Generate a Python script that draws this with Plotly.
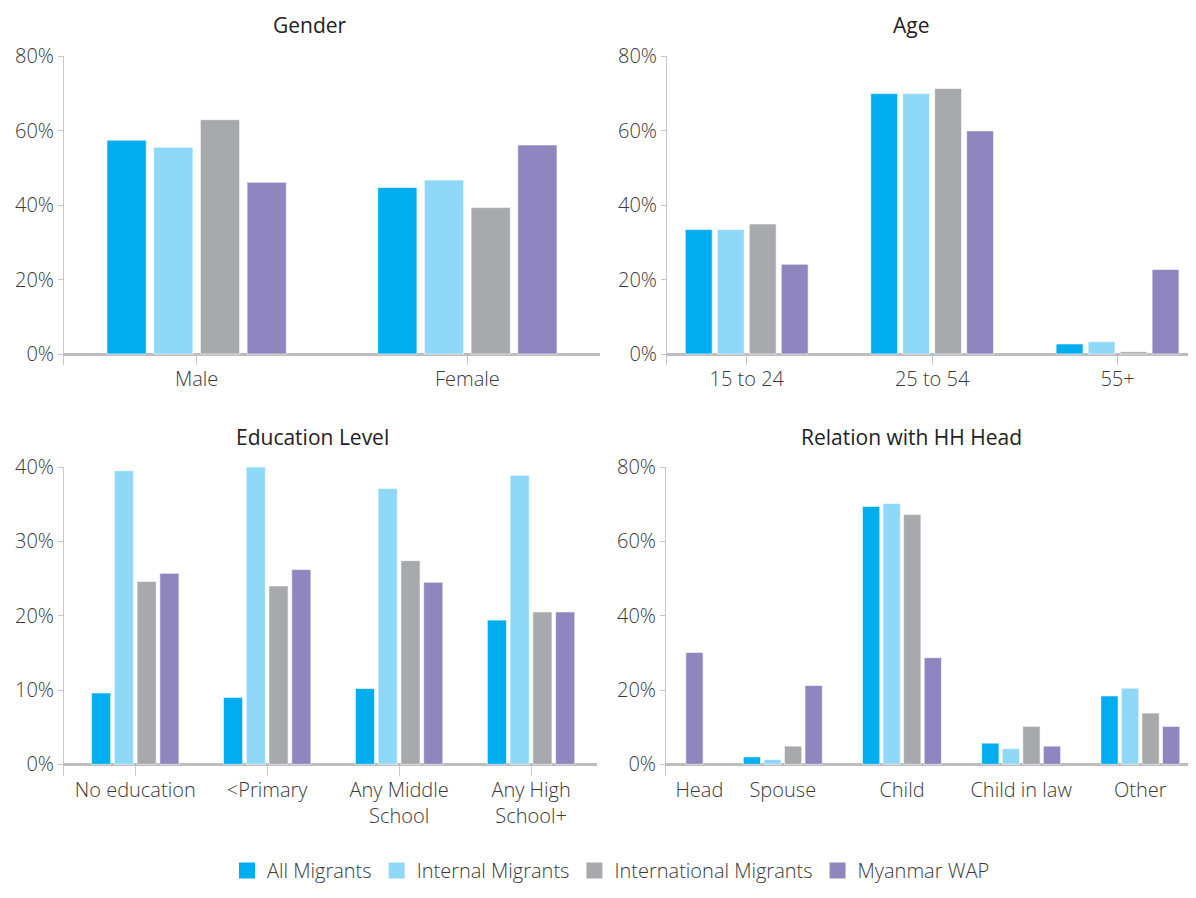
import plotly.graph_objects as go
from plotly.subplots import make_subplots

series = ["All Migrants", "Internal Migrants", "International Migrants", "Myanmar WAP"]
colors = ["#00aeef", "#8fd8f7", "#a8a9ad", "#8f86bf"]

gender_cats = ["Male", "Female"]
gender_all = [57.4, 44.7]
gender_internal = [55.5, 46.7]
gender_intl = [62.9, 39.3]
gender_wap = [46.1, 56.1]

age_cats = ["15 to 24", "25 to 54", "55+"]
age_all = [33.4, 69.9, 2.7]
age_internal = [33.4, 69.9, 3.3]
age_intl = [34.9, 71.3, 0.6]
age_wap = [24.1, 59.9, 22.7]

edu_cats = ["No education", "<Primary", "Any Middle<br>School", "Any High<br>School+"]
edu_all = [9.6, 9.0, 10.2, 19.4]
edu_internal = [39.5, 40.0, 37.1, 38.9]
edu_intl = [24.6, 24.0, 27.4, 20.5]
edu_wap = [25.7, 26.2, 24.5, 20.5]

rel_cats = ["Head", "Spouse", "Child", "Child in law", "Other"]
rel_all = [None, 2.0, 69.4, 5.7, 18.4]
rel_internal = [None, 1.3, 70.2, 4.2, 20.5]
rel_intl = [None, 4.9, 67.2, 10.2, 13.8]
rel_wap = [30.1, 21.2, 28.7, 4.9, 10.2]

panels = [
    ("Gender", gender_cats, [gender_all, gender_internal, gender_intl, gender_wap]),
    ("Age", age_cats, [age_all, age_internal, age_intl, age_wap]),
    ("Education Level", edu_cats, [edu_all, edu_internal, edu_intl, edu_wap]),
    ("Relation with HH Head", rel_cats, [rel_all, rel_internal, rel_intl, rel_wap]),
]

FONT = "Open Sans"
TXT = "#3a3a3a"
AXIS = "#c6c6c6"

fig = make_subplots(rows=2, cols=2)

for p, (title, cats, vals) in enumerate(panels):
    r, c = p // 2 + 1, p % 2 + 1
    # relation panel uses a numeric axis so the Head label can sit off the y axis
    xs = list(range(len(cats))) if p == 3 else cats
    for name, col, v in zip(series, colors, vals):
        fig.add_trace(
            go.Bar(
                x=xs, y=v, name=name, marker_color=col,
                marker_line=dict(color="white", width=0.6),
                showlegend=False, legendgroup=name,
            ),
            row=r, col=c,
        )

# legend-only entries so the swatches can be bigger than the bar default
for name, col in zip(series, colors):
    fig.add_trace(
        go.Scatter(
            x=[None], y=[None], mode="markers", name=name, legendgroup=name,
            marker=dict(symbol="square", size=18, color=col),
        ),
        row=1, col=1,
    )

# page body has an 8px margin, so the figure is 16px smaller than the window
OFF = 8
W, H = 1196 - 2 * OFF, 898 - 2 * OFF


def px_x(x):
    return (x - OFF) / W


def px_y(y):
    return 1 - (y - OFF) / H


xdom = [(px_x(64), px_x(600)), (px_x(667), 1.0), (px_x(64), px_x(597)), (px_x(666), 1.0)]
ydom = [(px_y(365), px_y(56))] * 2 + [(px_y(776), px_y(467))] * 2
xranges = [[-0.49, 1.49], [-0.43, 2.38], [-0.54, 3.5], [0.02, 4.40]]
yranges = [[-2.95, 80], [-2.95, 80], [-1.57, 40], [-3.14, 80]]
ydticks = [20, 20, 10, 20]

for i in range(4):
    xa = "xaxis" if i == 0 else f"xaxis{i + 1}"
    ya = "yaxis" if i == 0 else f"yaxis{i + 1}"
    xcfg = dict(
        domain=list(xdom[i]), range=xranges[i], showgrid=False, showline=False,
        zeroline=False, automargin=False,
        tickfont=dict(family=FONT, size=20, color=TXT, weight=300),
        ticks="inside", ticklen=10, tickcolor=AXIS, tickwidth=1,
    )
    if i == 3:
        xcfg.update(
            tickmode="array",
            tickvals=[k + (0.3 if k == 0 else 0) for k in range(len(rel_cats))],
            ticktext=rel_cats, ticks="",
        )
    fig.layout[xa].update(**xcfg)
    fig.layout[ya].update(
        domain=list(ydom[i]), range=yranges[i], showgrid=False, automargin=False,
        showline=True, linecolor=AXIS, linewidth=1,
        zeroline=True, zerolinecolor="#bdbdbd", zerolinewidth=2.5,
        ticks="outside", ticklen=5, tickcolor=AXIS,
        tick0=0, dtick=ydticks[i], ticksuffix="%",
        tickfont=dict(family=FONT, size=20, color=TXT, weight=300),
    )

titles_pos = [(310, 25), (911, 25), (312, 437), (911, 437)]
for (title, _, _), (tx, ty) in zip(panels, titles_pos):
    fig.add_annotation(
        text=title, x=px_x(tx), y=px_y(ty), xref="paper", yref="paper",
        showarrow=False, xanchor="center", yanchor="middle",
        font=dict(family=FONT, size=21, color="#222222", weight=400),
    )

fig.update_layout(
    width=W, height=H,
    margin=dict(l=0, r=0, t=0, b=0, autoexpand=False),
    plot_bgcolor="white", paper_bgcolor="white",
    barmode="group", bargap=0.31, bargroupgap=0.16,
    legend=dict(
        orientation="h", x=px_x(611), xanchor="center", y=0, yanchor="bottom",
        font=dict(family=FONT, size=20, color=TXT, weight=300),
        itemwidth=30, itemsizing="trace", tracegroupgap=0,
    ),
)

fig.write_html("out.html")
